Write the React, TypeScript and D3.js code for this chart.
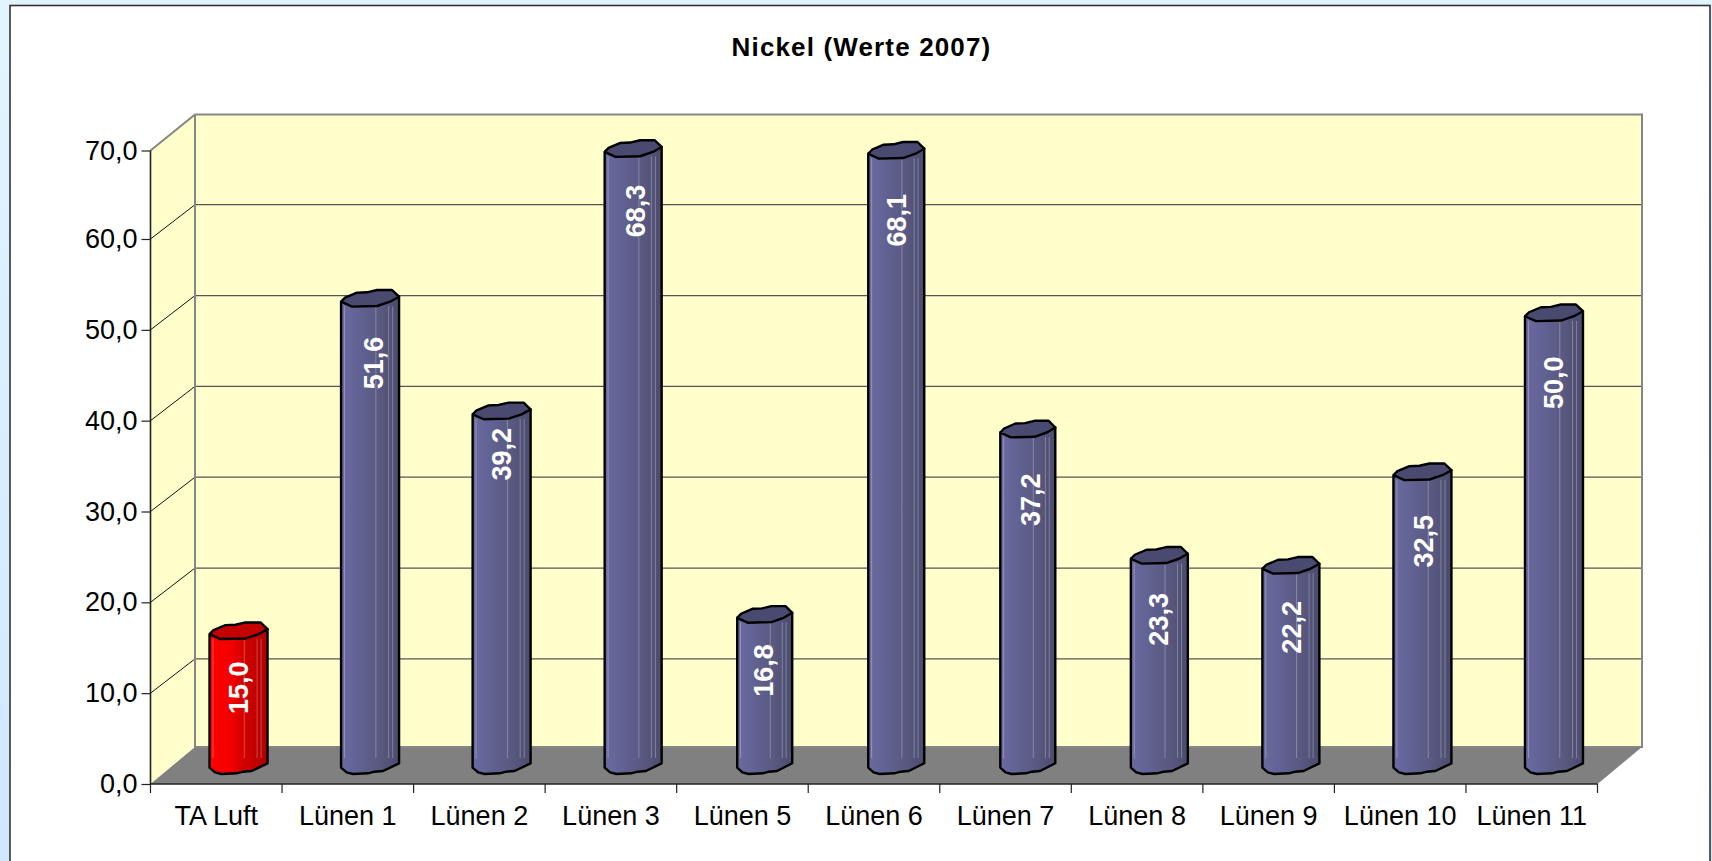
import React, { useEffect, useRef } from 'react'
import * as d3 from 'd3'

const categories = ['TA Luft', 'Lünen 1', 'Lünen 2', 'Lünen 3', 'Lünen 5', 'Lünen 6', 'Lünen 7', 'Lünen 8', 'Lünen 9', 'Lünen 10', 'Lünen 11']
const values = [15.0, 51.6, 39.2, 68.3, 16.8, 68.1, 37.2, 23.3, 22.2, 32.5, 50.0]
const yTicks = [0, 10, 20, 30, 40, 50, 60, 70]

const width = 1712
const height = 861
const font = '"Liberation Sans", Arial, sans-serif'

// depth of the fake 3d box
const depthX = 44.5
const depthY = -36
const gridDepthY = -34.3
const floorDepthY = -37

// the picture's bars are not all equally wide, and labels sit where excel put them
const barWidths = [58, 58, 58, 57, 55, 56, 55, 57, 57, 58, 58]
const labelDx = [0, 4, 0, 3, -1, 1, 3, 0, 1, 2, 0]
const labelDy = [0, 7.6, -13.6, 5.5, -1, 13, 13.6, 7, 5, 12.5, 13]

// outline of the wobbly cylinder, in px around the bar centre (for a 58px bar)
const capOutline: [number, number][] = [
  [-29, 3.4], [-25, -0.6], [-13, -5.6], [-3, -6], [7, -8.3], [22, -8.3], [29, -1.6],
  [20, 3.4], [7, 7.7], [-18, 8.3], [-29, 3.4]
]
const baseOutline: [number, number][] = [
  [-29, 1.7], [-23.5, 6.3], [-17, 8], [-2, 7.3], [4.5, 5.7], [13, 5], [29, -2.7]
]
const glints = [0.06, 0.6, 0.82, 0.89]

const fmt = d3.formatLocale({ decimal: ',', thousands: '.', grouping: [3], currency: ['', ' €'] }).format('.1f')

const App = () => {
  const ref = useRef<SVGSVGElement>(null)

  useEffect(() => {
    const svg = d3.select(ref.current)
    svg.selectAll('*').remove()

    const x = d3.scaleBand<string>().domain(categories).range([150.5, 1597.5])
    // top step of the axis is a little shorter in the reference
    const y = d3.scaleLinear().domain([0, 60, 70]).range([784, 239, 150.5])
    const [x0, x1] = x.range()
    const poly = d3.line()

    const defs = svg.append('defs')
    const addGradient = (id: string, stops: [number, string][], vertical = false) => {
      const g = defs.append('linearGradient').attr('id', id).attr('x1', 0).attr('y1', 0)
        .attr('x2', vertical ? 0 : 1).attr('y2', vertical ? 1 : 0)
      stops.forEach(s => g.append('stop').attr('offset', s[0]).attr('stop-color', s[1]))
    }
    addGradient('page', [[0, '#e2f5ff'], [1, '#cfe8ff']], true)
    addGradient('blue', [[0, '#6a6aa0'], [0.3, '#626294'], [0.6, '#5a5a84'], [0.8, '#54547a'], [1, '#4b4b6e']])
    addGradient('red', [[0, '#ff0000'], [0.35, '#f40000'], [0.6, '#d20000'], [1, '#b00000']])

    svg.append('rect').attr('width', width).attr('height', height).attr('fill', 'url(#page)')
    svg.append('rect').attr('x', 10).attr('y', 5.5).attr('width', 1700).attr('height', 900)
      .attr('fill', '#fff').attr('stroke', '#333').attr('stroke-width', 1.6)

    svg.append('text').attr('x', 861.5).attr('y', 56).attr('text-anchor', 'middle')
      .attr('font-family', font).attr('font-weight', 'bold').attr('font-size', 26)
      .attr('letter-spacing', 1.15).text('Nickel (Werte 2007)')

    // walls and floor
    const yTop = y(70)
    const yBase = y(0)
    svg.append('path').attr('fill', '#ffffcc')
      .attr('d', poly([[x0, yBase], [x0, yTop], [x0 + depthX, yTop + depthY], [x0 + depthX, yBase + floorDepthY]]))
    svg.append('rect').attr('x', x0 + depthX).attr('y', yTop + depthY)
      .attr('width', x1 - x0).attr('height', yBase + floorDepthY - yTop - depthY).attr('fill', '#ffffcc')

    const grid = yTicks.filter(t => t > 0 && t < 70)
    svg.append('g').selectAll('path').data(grid).enter().append('path')
      .attr('fill', 'none').attr('stroke', '#111').attr('stroke-width', 1)
      .attr('d', t => poly([[x0, y(t)], [x0 + depthX, y(t) + gridDepthY]]))
    svg.append('g').selectAll('line').data(grid).enter().append('line')
      .attr('x1', x0 + depthX).attr('x2', x1 + depthX)
      .attr('y1', t => y(t) + gridDepthY).attr('y2', t => y(t) + gridDepthY)
      .attr('stroke', '#555').attr('stroke-width', 1.2)

    svg.append('path').attr('fill', '#808080')
      .attr('d', poly([[x0, yBase], [x1, yBase], [x1 + depthX, yBase + floorDepthY], [x0 + depthX, yBase + floorDepthY]]))
    svg.append('path').attr('fill', 'none').attr('stroke', '#868686').attr('stroke-width', 2)
      .attr('d', poly([[x0, yTop], [x0 + depthX, yTop + depthY], [x1 + depthX, yTop + depthY], [x1 + depthX, yBase + floorDepthY], [x0 + depthX, yBase + floorDepthY], [x0 + depthX, yTop + depthY]]))

    // bars
    const bars = svg.append('g').selectAll('g').data(categories).enter().append('g')
      .attr('transform', d => `translate(${(x(d) as number) + x.bandwidth() / 2 + depthX / 2},0)`)

    bars.each(function (d, i) {
      const g = d3.select(this)
      const yt = y(values[i]) + depthY / 2 + 1
      const yb = yBase + depthY / 2
      const isRef = i === 0
      const w = barWidths[i]
      const k = w / 58
      const side: [number, number][] = [
        [-w / 2, yt + capOutline[0][1]],
        ...baseOutline.map(p => [p[0] * k, yb + p[1]] as [number, number]),
        [w / 2, yt + capOutline[6][1]]
      ]
      g.append('path').attr('d', poly(side) + 'Z')
        .attr('fill', isRef ? 'url(#red)' : 'url(#blue)')
        .attr('stroke', '#000').attr('stroke-width', 2.4).attr('stroke-linejoin', 'round')
      glints.forEach(f => {
        const gx = -w / 2 + f * w
        g.append('line').attr('x1', gx).attr('x2', gx).attr('y1', yt + 8).attr('y2', yb - 8)
          .attr('stroke', '#fff').attr('stroke-opacity', 0.28).attr('stroke-width', 1)
      })
      g.append('path').attr('d', poly(capOutline.map(p => [p[0] * k, yt + p[1]] as [number, number])))
        .attr('fill', isRef ? '#c40000' : '#4a4a70')
        .attr('stroke', '#000').attr('stroke-width', 2.4).attr('stroke-linejoin', 'round')
      g.append('text')
        .attr('transform', `translate(${9 + labelDx[i]},${yt + 57 + labelDy[i]}) rotate(-90)`)
        .attr('text-anchor', 'middle')
        .attr('font-family', font).attr('font-weight', 'bold').attr('font-size', 27)
        .attr('fill', '#fff').text(fmt(values[i]))
    })

    // axes
    const yAxis = d3.axisLeft(y).tickValues(yTicks).tickSize(9).tickPadding(4).tickFormat(d => fmt(d as number))
    const xAxis = d3.axisBottom(x).tickSize(0).tickPadding(22)
    const gy = svg.append('g').attr('transform', `translate(${x0},0)`).call(yAxis)
    const gx = svg.append('g').attr('transform', `translate(0,${yBase})`).call(xAxis)
    svg.append('g').attr('transform', `translate(0,${yBase})`)
      .selectAll('line').data([...categories.map(c => x(c) as number), x1]).enter().append('line')
      .attr('x1', d => d).attr('x2', d => d).attr('y1', 0).attr('y2', 9)
      .attr('stroke', '#222').attr('stroke-width', 1.2)
    ;[gy, gx].forEach(a => {
      a.attr('font-family', font).attr('font-size', 27)
      a.selectAll('text').attr('fill', '#000')
      a.select('.domain').attr('stroke', '#222').attr('stroke-width', 1.6)
      a.selectAll('.tick line').attr('stroke', '#222').attr('stroke-width', 1.2)
    })
    gy.select('.domain').attr('d', `M0,${yBase}V${yTop}`)
    gx.select('.domain').attr('d', `M${x0},0H${x1}`)
  }, [])

  return <svg ref={ref} width={width} height={height} style={{ position: 'absolute', left: 0, top: 0 }} />
}

export default App
